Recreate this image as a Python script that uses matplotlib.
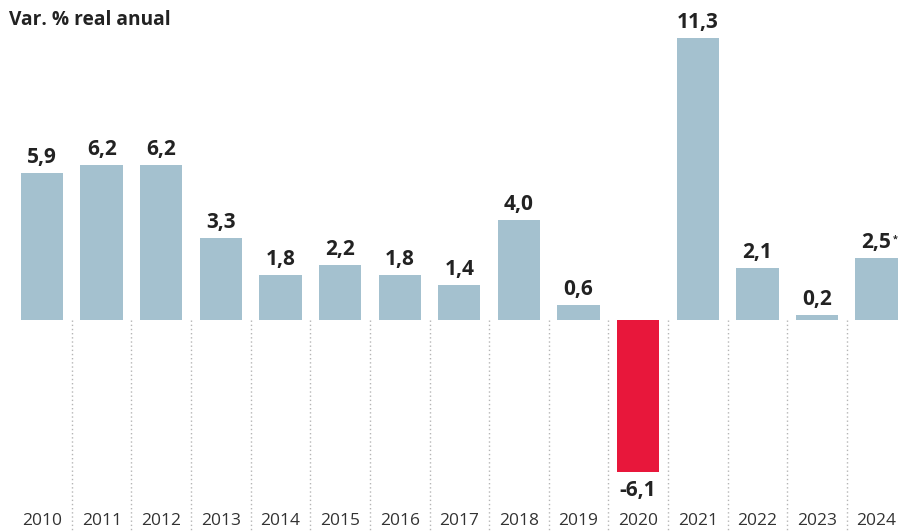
import matplotlib.pyplot as plt
import numpy as np

plt.rcParams['font.family'] = ['Open Sans', 'DejaVu Sans']

years = ['2010', '2011', '2012', '2013', '2014', '2015', '2016', '2017',
         '2018', '2019', '2020', '2021', '2022', '2023', '2024']
values = [5.9, 6.2, 6.2, 3.3, 1.8, 2.2, 1.8, 1.4, 4.0, 0.6, -6.1, 11.3, 2.1, 0.2, 2.5]
estimated = ['2024']

blue = '#a4c1cf'
red = '#e8173b'

fig = plt.figure(figsize=(9.07, 5.31), dpi=100)
ax = fig.add_axes([0, 0, 1, 1])

x = np.arange(len(years))
colors = [red if v < 0 else blue for v in values]
ax.bar(x, values, width=0.71, color=colors, zorder=2)

# dotted separators between years, below the zero line
for i in range(len(years) - 1):
    ax.plot([i + 0.5, i + 0.5], [0, -8.6], linestyle=(0, (1, 2)),
            color='#b5b5b5', linewidth=1, zorder=1)

for i, v in enumerate(values):
    label = f'{v:.1f}'.replace('.', ',')
    if v >= 0:
        t = ax.text(i, v + 0.2, label, ha='center', va='bottom',
                    fontsize=15, fontweight='bold', color='#222222')
        if years[i] in estimated:
            ax.annotate('*', xy=(1, 1), xycoords=t, xytext=(0.5, -2),
                        textcoords='offset points', ha='left', va='top',
                        fontsize=6.5, fontweight='bold', color='#222222')
    else:
        ax.text(i, v - 0.3, label, ha='center', va='top',
                fontsize=15, fontweight='bold', color='#222222')

for i, y in enumerate(years):
    ax.text(i, -8.05, y, ha='center', va='center', fontsize=12.5, color='#333333')

ax.text(-0.55, 12.0, 'Var. % real anual', ha='left', va='center',
        fontsize=13.8, fontweight='bold', color='#222222')

ax.set_xlim(-0.705, 14.51)
ax.set_ylim(-8.45, 12.82)
ax.axis('off')

fig.savefig('out.png', dpi=100)
